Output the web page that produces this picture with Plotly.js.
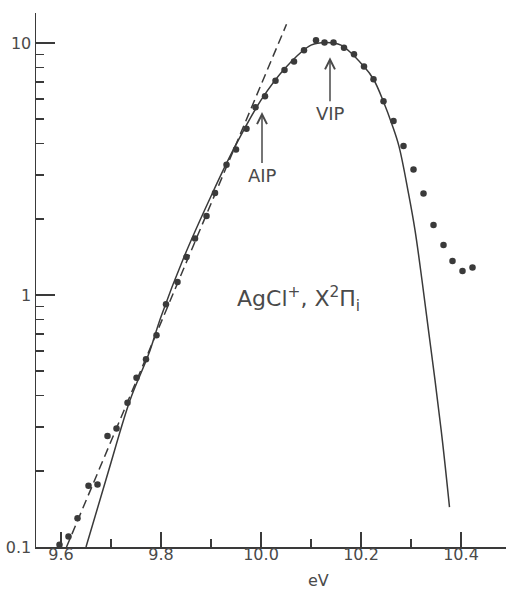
<!DOCTYPE html>
<html>
<head>
<meta charset="utf-8">
<script src="https://cdn.plot.ly/plotly-3.0.1.min.js"></script>
<style>
  html, body { margin: 0; padding: 0; background: #ffffff; }
  #chart { width: 506px; height: 591px; }
</style>
</head>
<body>
<div id="chart"></div>
<script>
// Photoelectron band of AgCl+ (X 2Pi_i): measured points, calculated envelope, threshold extrapolation
const pointEnergy = [9.597, 9.615, 9.633, 9.655, 9.673, 9.693, 9.711, 9.733, 9.751, 9.770,
                     9.791, 9.810, 9.833, 9.851, 9.868, 9.891, 9.908, 9.931, 9.950, 9.971,
                     9.989, 10.008, 10.029, 10.047, 10.066, 10.086, 10.110, 10.127, 10.145, 10.166,
                     10.186, 10.206, 10.225, 10.245, 10.265, 10.285, 10.305, 10.325, 10.345, 10.365,
                     10.383, 10.403, 10.423];
const pointIntensity = [0.102, 0.110, 0.130, 0.175, 0.177, 0.276, 0.295, 0.374, 0.469, 0.556,
                        0.692, 0.918, 1.126, 1.415, 1.674, 2.058, 2.54, 3.29, 3.776, 4.57,
                        5.56, 6.15, 7.08, 7.82, 8.44, 9.35, 10.25, 10.05, 10.05, 9.57,
                        9.02, 8.06, 7.18, 5.87, 4.90, 3.90, 3.145, 2.53, 1.896, 1.578,
                        1.364, 1.245, 1.285];

// calculated Franck-Condon envelope
const envelopeEnergy = [9.650, 9.694, 9.738, 9.775, 9.800, 9.846, 9.903, 9.945, 10.000, 10.050,
                        10.100, 10.130, 10.160, 10.206, 10.225, 10.245, 10.262, 10.276, 10.295, 10.308,
                        10.322, 10.335, 10.348, 10.363, 10.377];
const envelopeIntensity = [0.100, 0.197, 0.382, 0.58, 0.82, 1.415, 2.54, 3.78, 5.93, 8.01,
                           9.80, 10.05, 9.80, 8.06, 7.18, 5.85, 4.75, 3.89, 2.53, 1.81,
                           1.144, 0.724, 0.459, 0.262, 0.144];

// straight-line extrapolation of the onset
const onsetEnergy = [9.611, 10.051];
const onsetIntensity = [0.100, 11.86];

const xTickVals = [9.6, 9.8, 10.0, 10.2, 10.4];
const xTickText = ['9.6', '9.8', '10.0', '10.2', '10.4'];
const xMinorVals = [9.7, 9.9, 10.1, 10.3];
const yTickVals = [0.1, 1, 10];
const yTickText = ['0.1', '1', '10'];
const yMinorVals = [0.2, 0.3, 0.4, 0.5, 0.6, 0.7, 0.8, 0.9, 2, 3, 4, 5, 6, 7, 8, 9];

const ink = '#3a3a3a';
const textInk = '#4a4a4a';
const fontFamily = 'DejaVu Sans, sans-serif';

const traces = [
  {
    x: envelopeEnergy, y: envelopeIntensity, type: 'scatter', mode: 'lines',
    line: { color: ink, width: 1.5, shape: 'spline', smoothing: 1 },
    hoverinfo: 'skip'
  },
  {
    x: onsetEnergy, y: onsetIntensity, type: 'scatter', mode: 'lines',
    line: { color: ink, width: 1.5, dash: '9px,5px' },
    hoverinfo: 'skip'
  },
  {
    x: pointEnergy, y: pointIntensity, type: 'scatter', mode: 'markers',
    marker: { color: ink, size: 6.5 },
    cliponaxis: false
  }
];

const log10 = Math.log10;

const layout = {
  width: 506, height: 591,
  margin: { l: 36, r: 0, t: 13, b: 44 },
  paper_bgcolor: '#ffffff', plot_bgcolor: '#ffffff',
  showlegend: false,
  font: { family: fontFamily, color: textInk },
  xaxis: {
    range: [9.55, 10.49],
    tickvals: xTickVals, ticktext: xTickText,
    ticks: 'inside', ticklen: 15, tickwidth: 1.5, tickcolor: ink,
    ticklabelstandoff: -8,
    showline: true, linecolor: ink, linewidth: 1.5,
    showgrid: false, zeroline: false,
    tickfont: { family: fontFamily, size: 16, color: textInk },
    minor: { tickvals: xMinorVals, ticks: 'inside', ticklen: 8, tickwidth: 1.5, tickcolor: ink, showgrid: false }
  },
  yaxis: {
    type: 'log',
    range: [-1, 1.119],
    tickvals: yTickVals, ticktext: yTickText,
    ticks: 'inside', ticklen: 19, tickwidth: 1.5, tickcolor: ink,
    showline: true, linecolor: ink, linewidth: 1.5,
    showgrid: false, zeroline: false,
    tickfont: { family: fontFamily, size: 16, color: textInk },
    minor: { tickvals: yMinorVals, ticks: 'inside', ticklen: 8, tickwidth: 1.5, tickcolor: ink, showgrid: false }
  },
  annotations: [
    // vertical ionization potential: label with an arrow pointing up at the band maximum
    { x: 10.138, y: log10(8.77), xref: 'x', yref: 'y', text: 'VIP', showarrow: true,
      ax: 0, ay: 56, arrowhead: 5, arrowsize: 1.3, arrowwidth: 1.5, arrowcolor: textInk,
      font: { family: fontFamily, size: 18, color: textInk } },
    // adiabatic ionization potential
    { x: 10.002, y: log10(5.32), xref: 'x', yref: 'y', text: 'AIP', showarrow: true,
      ax: 0, ay: 63, arrowhead: 5, arrowsize: 1.3, arrowwidth: 1.5, arrowcolor: textInk,
      font: { family: fontFamily, size: 18, color: textInk } },
    // state label
    { x: 10.075, y: log10(0.96), xref: 'x', yref: 'y',
      text: 'AgCl<sup>+</sup>, X<sup>2</sup>\u03A0<sub>i</sub>', showarrow: false,
      font: { family: fontFamily, size: 22, color: textInk } },
    // energy axis label
    { x: 10.114, y: 0, xref: 'x', yref: 'paper', yanchor: 'middle', yshift: -33,
      text: 'eV', showarrow: false,
      font: { family: fontFamily, size: 16, color: textInk } }
  ]
};

Plotly.newPlot('chart', traces, layout, { staticPlot: true, displayModeBar: false });
</script>
</body>
</html>
